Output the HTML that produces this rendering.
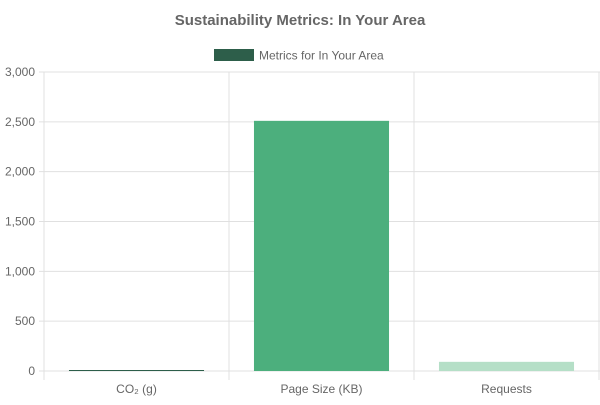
<!DOCTYPE html>
<html><head><meta charset="utf-8"><style>
body{margin:0;background:#fff;font-family:"Liberation Sans",sans-serif}
svg text{font-family:"Liberation Sans",sans-serif}
</style></head><body>
<svg id="chart" width="600" height="400">
<text x="300" y="25" text-anchor="middle" font-size="15" font-weight="bold" fill="#666">Sustainability Metrics: In Your Area</text>
<g>
<rect x="214" y="49" width="40" height="12" fill="#2d5e4a"/>
<text x="259" y="59.5" font-size="12" fill="#666">Metrics for In Your Area</text>
</g>
<g id="grid"></g><g id="bars"></g><g id="labels"></g>
</svg>
<script>
const categories=["CO₂ (g)","Page Size (KB)","Requests"];
const values=[1.5,2510,92];
const colors=["#2d5e4a","#4caf7d","#b5dfc7"];
const yTicks=[0,500,1000,1500,2000,2500,3000];
const tickLabels=["0","500","1,000","1,500","2,000","2,500","3,000"];
const NS="http://www.w3.org/2000/svg";
const L=44,R=599,T=72,B=371,yMax=3000;
const y=v=>B-(v/yMax)*(B-T);
const bw=(R-L)/categories.length;
const x=i=>L+i*bw;
function mk(tag,attrs,parent,txt){const e=document.createElementNS(NS,tag);for(const k in attrs)e.setAttribute(k,attrs[k]);if(txt!=null)e.textContent=txt;document.getElementById(parent).appendChild(e);return e;}
yTicks.forEach((t,i)=>{
 const g=mk("line",{x1:L-5,x2:R+1,y1:y(t),y2:y(t),stroke:"#e0e0e0","stroke-width":1},"grid");
 
 
 const lb=mk("text",{x:L-9,y:y(t)+4,"text-anchor":"end","font-size":12,fill:"#666"},"labels",tickLabels[i]);
 
 
});
for(let i=0;i<=categories.length;i++){
 const v=mk("line",{x1:x(i),x2:x(i),y1:T,y2:B+9,stroke:"#e0e0e0","stroke-width":1},"grid");
 
 
}
categories.forEach((c,i)=>{
 const pad=bw*0.135;
 const top=y(values[i]);
 const b=mk("rect",{x:x(i)+pad,y:Math.min(top,B-1),width:bw-2*pad,height:Math.max(B-top,1),fill:colors[i]},"bars");
 
 
 const lb=mk("text",{x:x(i)+bw/2,y:B+22,"text-anchor":"middle","font-size":12,fill:"#666"},"labels",c);
 
 
});
</script>
</body></html>
